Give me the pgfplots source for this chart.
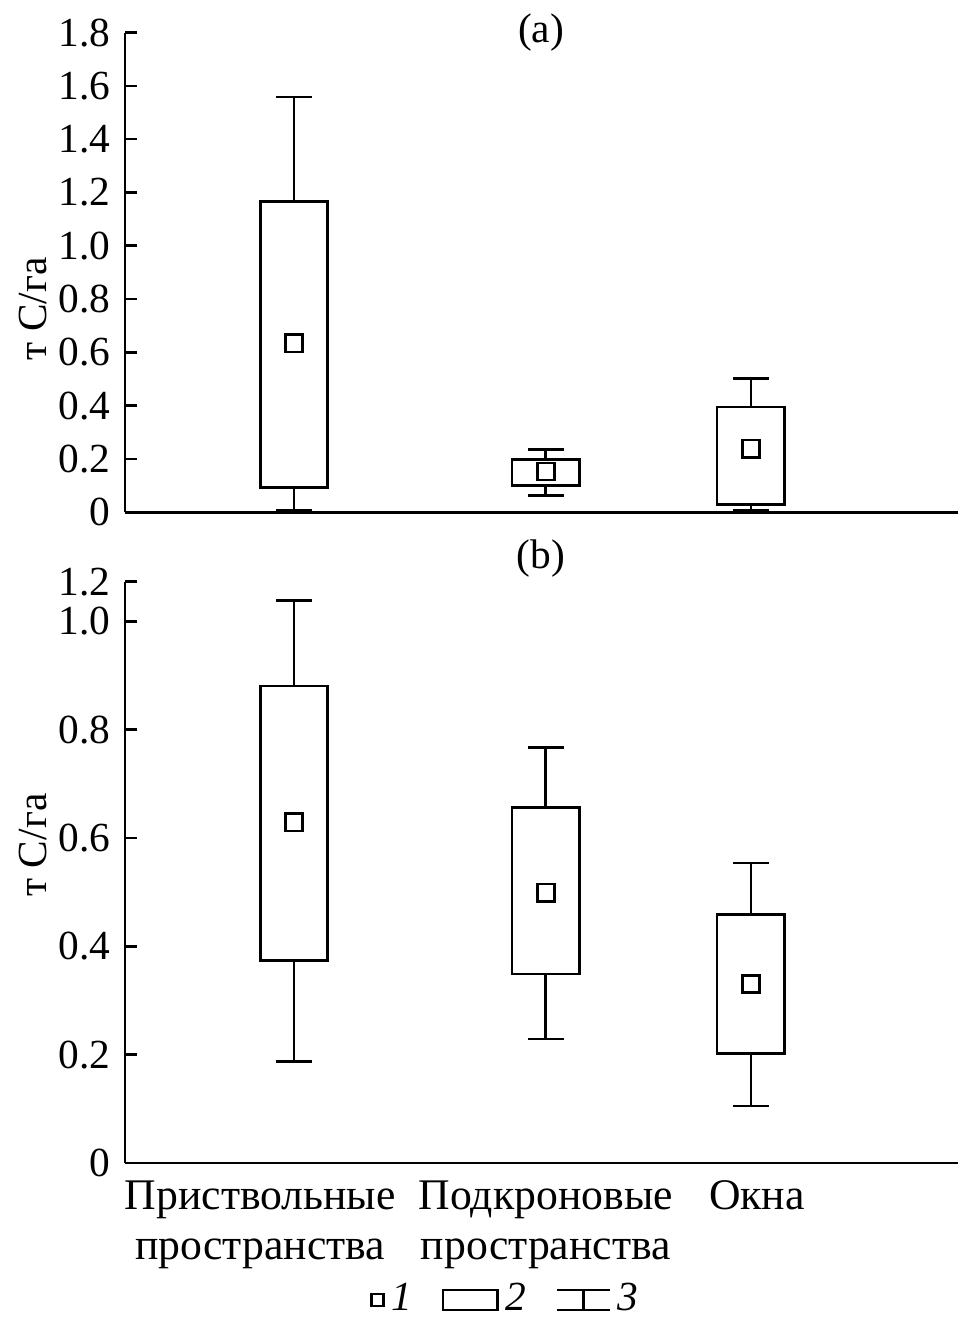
\documentclass[border=0pt]{standalone}
\usepackage{fontspec}
\setmainfont{Liberation Serif}
\usepackage{pgfplots}
\pgfplotsset{compat=1.18}
\usepgfplotslibrary{statistics}

\begin{document}
\fontsize{12.5}{15}\selectfont
\begin{tikzpicture}
\pgfplotsset{
  mybox/.style={
    scale only axis, width=251.7pt,
    xmin=1.26, xmax=9.65,
    axis x line=bottom, axis y line=left,
    axis line style={-, line width=0.8pt},
    tick align=inside,
    major tick length=3.6pt,
    ytick style={line width=0.8pt, black},
    xtick style={draw=none},
    every tick label/.append style={font=\fontsize{12.5}{15}\selectfont},
    ylabel={т С/га},
    boxplot/draw direction=y,
    boxplot/draw/median/.code={},
    clip=false,
  },
  bx/.style={black, solid, line width=0.8pt, mark=none, forget plot},
  mn/.style={black, only marks, mark=square, mark size=2.6pt, mark options={solid, line width=0.8pt}, forget plot},
}
% ---------- (a) ----------
\begin{axis}[mybox, name=a, height=144.9pt,
  ymin=0, ymax=1.8,
  ytick={0,0.2,0.4,0.6,0.8,1.0,1.2,1.4,1.6,1.8},
  yticklabels={0,0.2,0.4,0.6,0.8,1.0,1.2,1.4,1.6,1.8},
  xtick=\empty,
  every axis y label/.style={at={(axis description cs:-0.111,0.424)}, rotate=90, anchor=center, font=\fontsize{12.5}{15}\selectfont},
]
\addplot[bx, boxplot prepared={draw position=2.96, lower whisker=0.007, lower quartile=0.093, median=0.63, upper quartile=1.167, upper whisker=1.558, box extend=0.68, whisker extend=0.36}] coordinates {};
\addplot[bx, boxplot prepared={draw position=5.495, lower whisker=0.063, lower quartile=0.100, median=0.15, upper quartile=0.198, upper whisker=0.235, box extend=0.68, whisker extend=0.36}] coordinates {};
\addplot[bx, boxplot prepared={draw position=7.56, lower whisker=0.007, lower quartile=0.030, median=0.24, upper quartile=0.395, upper whisker=0.503, box extend=0.68, whisker extend=0.36}] coordinates {};
\addplot[mn] coordinates {(2.96,0.634) (5.495,0.153) (7.56,0.239)};
\node[font=\fontsize{12.5}{15}\selectfont] at (axis description cs:0.499,1) {(a)};
\end{axis}
% ---------- (b) ----------
\begin{axis}[mybox, name=b, height=175.5pt, at={(0pt,-21pt)}, anchor=north west,
  ymin=0, ymax=1.0734,
  ytick={0,0.2,0.4,0.6,0.8,1.0,1.0734},
  yticklabels={0,0.2,0.4,0.6,0.8,1.0,1.2},
  xtick={2.62,5.495,7.62},
  xticklabels={Приствольные\\пространства, Подкроновые\\пространства, Окна},
  x tick label style={align=center, anchor=north, yshift=-1pt, font=\fontsize{13.2}{15.3}\selectfont},
  every axis y label/.style={at={(axis description cs:-0.111,0.547)}, rotate=90, anchor=center, font=\fontsize{12.5}{15}\selectfont},
  legend style={at={(axis description cs:0.459,-0.236)}, anchor=center, draw=none, fill=none,
    legend columns=3, font=\fontsize{12.5}{15}\selectfont,
    /tikz/every even column/.append style={column sep=7pt},
    /tikz/every odd column/.append style={column sep=0pt}},
]
\addplot[bx, boxplot prepared={draw position=2.96, lower whisker=0.187, lower quartile=0.374, median=0.63, upper quartile=0.881, upper whisker=1.039, box extend=0.68, whisker extend=0.36}] coordinates {};
\addplot[bx, boxplot prepared={draw position=5.495, lower whisker=0.229, lower quartile=0.349, median=0.5, upper quartile=0.657, upper whisker=0.767, box extend=0.68, whisker extend=0.36}] coordinates {};
\addplot[bx, boxplot prepared={draw position=7.56, lower whisker=0.105, lower quartile=0.202, median=0.33, upper quartile=0.459, upper whisker=0.554, box extend=0.68, whisker extend=0.36}] coordinates {};
\addplot[mn] coordinates {(2.96,0.629) (5.495,0.499) (7.56,0.330)};
\node[font=\fontsize{12.5}{15}\selectfont] at (axis description cs:0.499,1) [yshift=6.9pt] {(b)};
\addlegendimage{legend image code/.code={\draw[line width=0.7pt] (0pt,-1.8pt) rectangle (3.6pt,1.8pt);}}
\addlegendentry{\textit{1}}
\addlegendimage{legend image code/.code={\draw[line width=0.7pt] (0pt,-3pt) rectangle (16.5pt,3pt);}}
\addlegendentry{\textit{2}}
\addlegendimage{legend image code/.code={\draw[line width=0.7pt] (0pt,3pt) -- (16pt,3pt) (0pt,-3pt) -- (16pt,-3pt) (8pt,-3pt) -- (8pt,3pt);}}
\addlegendentry{\textit{3}}
\end{axis}
\path (-37.8pt,-246pt) rectangle (252.6pt,153pt);
\end{tikzpicture}
\end{document}
